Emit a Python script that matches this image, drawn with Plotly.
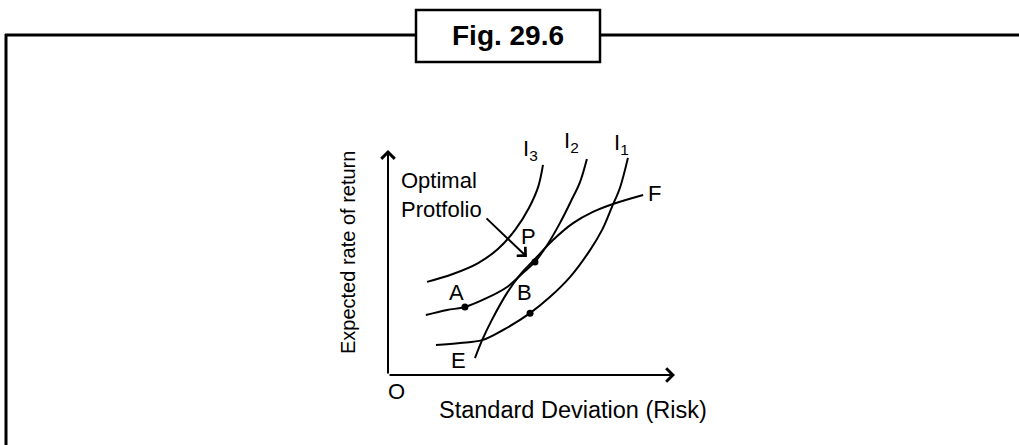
import plotly.graph_objects as go

# ---- data (risk = standard deviation, ret = expected rate of return), arbitrary units ----
i3_risk = [1.36, 2.26, 3.14, 3.83, 4.43, 4.91, 5.23, 5.40]
i3_ret = [3.31, 3.59, 3.98, 4.48, 5.16, 5.94, 6.68, 7.47]

i2_risk = [1.32, 2.06, 2.68, 3.45, 4.15, 4.70, 5.12, 5.57, 5.99, 6.38, 6.69, 6.93]
i2_ret = [2.13, 2.31, 2.42, 2.74, 3.13, 3.63, 4.02, 4.66, 5.40, 6.19, 6.86, 7.68]

i1_risk = [1.67, 2.51, 3.28, 4.01, 4.95, 5.64, 6.34, 7.04, 7.46, 7.80, 8.08, 8.36]
i1_ret = [1.07, 1.14, 1.24, 1.60, 2.20, 2.77, 3.48, 4.44, 5.16, 5.97, 6.65, 7.72]

ef_risk = [3.03, 3.28, 3.62, 4.15, 4.60, 5.09, 5.75, 6.45, 7.14, 7.84, 8.89]
ef_ret = [0.60, 1.24, 1.96, 2.92, 3.56, 4.09, 4.80, 5.40, 5.80, 6.08, 6.40]

point_names = ["A", "P", "B"]
point_risk = [2.68, 5.12, 4.95]
point_ret = [2.42, 4.02, 2.20]

axis_max_x = 10.0
axis_max_y = 8.0

FONT = "Arial, 'Liberation Sans', Helvetica, sans-serif"
W, H = 1019, 445
SX, SY = 28.7, 28.125
OX, OY = 388, 375

fig = go.Figure()
for xs, ys in [(i3_risk, i3_ret), (i2_risk, i2_ret), (i1_risk, i1_ret), (ef_risk, ef_ret)]:
    fig.add_trace(go.Scatter(x=xs, y=ys, mode="lines", line=dict(color="black", width=2, shape="spline", smoothing=1.0),
                             hoverinfo="skip", showlegend=False))
fig.add_trace(go.Scatter(x=point_risk, y=point_ret, mode="markers", marker=dict(color="black", size=7),
                         text=point_names, hoverinfo="text", showlegend=False))

ann = []
def label(x, y, text, size=22, **kw):
    d = dict(x=x, y=y, xref="x", yref="y", text=text, showarrow=False,
             font=dict(family=FONT, size=size, color="black"))
    d.update(kw)
    ann.append(d)

label(2.40, 2.95, "A")
label(4.74, 2.92, "B")
label(2.47, 0.53, "E")
label(4.88, 4.91, "P")
label(9.27, 6.47, "F")
label(4.95, 8.00, "I<sub>3</sub>")
label(6.41, 8.28, "I<sub>2</sub>")
label(8.12, 8.21, "I<sub>1</sub>")
label(0.30, -0.57, "O")
label(0.40, 6.40, "Optimal<br>Protfolio", size=22, xanchor="left", align="left")
label(6.45, -1.24, "Standard Deviation (Risk)", size=23.5)
label(-1.39, 4.34, "Expected rate of return", size=20, textangle=-90)

# axes with arrows
ann.append(dict(x=axis_max_x, y=0, ax=0, ay=0, xref="x", yref="y", axref="x", ayref="y", text="",
                showarrow=True, arrowhead=4, arrowsize=1.3, arrowwidth=2, arrowcolor="black"))
ann.append(dict(x=0, y=axis_max_y, ax=0, ay=0, xref="x", yref="y", axref="x", ayref="y", text="",
                showarrow=True, arrowhead=4, arrowsize=1.3, arrowwidth=2, arrowcolor="black"))
# optimal portfolio pointer
ann.append(dict(x=4.84, y=4.20, ax=3.38, ay=5.62, xref="x", yref="y", axref="x", ayref="y", text="",
                showarrow=True, arrowhead=4, arrowsize=1.2, arrowwidth=2, arrowcolor="black"))

# title box
def px(x): return x / W
def py(y): return 1 - y / H
ann.append(dict(x=px(508), y=py(36), xref="paper", yref="paper", xanchor="center", yanchor="middle",
                text="<b>Fig. 29.6</b>", showarrow=False,
                font=dict(family=FONT, size=28, color="black")))

shapes = [
    dict(type="line", xref="paper", yref="paper", x0=px(5), x1=px(416), y0=py(35), y1=py(35), line=dict(color="black", width=3)),
    dict(type="line", xref="paper", yref="paper", x0=px(600), x1=px(1019), y0=py(35), y1=py(35), line=dict(color="black", width=3)),
    dict(type="line", xref="paper", yref="paper", x0=px(6), x1=px(6), y0=py(34), y1=py(445), line=dict(color="black", width=3)),
    dict(type="rect", xref="paper", yref="paper", x0=px(416), x1=px(600), y0=py(10), y1=py(62), line=dict(color="black", width=2.5)),
]

fig.update_layout(
    width=W, height=H, margin=dict(l=0, r=0, t=0, b=0),
    paper_bgcolor="white", plot_bgcolor="white",
    xaxis=dict(range=[-OX / SX, (W - OX) / SX], visible=False, fixedrange=True),
    yaxis=dict(range=[(OY - H) / SY, OY / SY], visible=False, fixedrange=True),
    annotations=ann, shapes=shapes, showlegend=False,
)

fig.write_html("out.html", config={"displayModeBar": False}, post_script="document.body.style.margin='0';")
